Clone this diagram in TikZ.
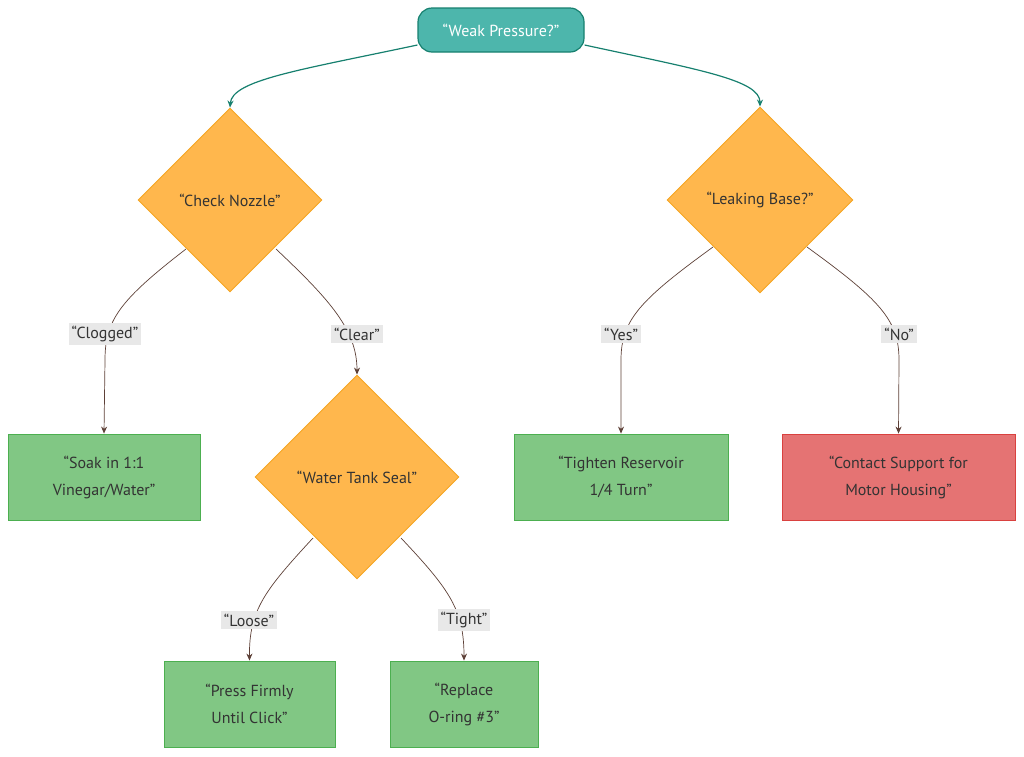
\documentclass[tikz,border=0pt]{standalone}
\usepackage{fontspec}
\setmainfont{PT Sans}
\usetikzlibrary{shapes.geometric,arrows.meta}
\definecolor{teal1}{HTML}{4DB6AC}
\definecolor{teal2}{HTML}{17806F}
\definecolor{dia}{HTML}{FFB74D}
\definecolor{diab}{HTML}{F5A623}
\definecolor{grn}{HTML}{81C784}
\definecolor{grnb}{HTML}{4CAF50}
\definecolor{rd}{HTML}{E57373}
\definecolor{rdb}{HTML}{D9413F}
\definecolor{edge}{HTML}{5D4037}
\definecolor{lbl}{HTML}{E8E8E8}
\begin{document}
\begin{tikzpicture}[x=1pt,y=-1pt,font=\fontsize{16}{27}\selectfont,
  diam/.style={diamond,draw=diab,fill=dia,line width=0.9pt,text=black!80,inner sep=0pt,aspect=1},
  box/.style={draw=grnb,fill=grn,line width=0.9pt,text=black!80,align=center,inner sep=0pt},
  lab/.style={fill=lbl,text=black!80,inner sep=3pt},
  e/.style={draw=edge,line width=0.7pt,-{Stealth[length=7pt,width=6pt]}},
  te/.style={draw=teal2,line width=1.2pt,-{Stealth[length=7pt,width=6pt]}}]
\useasboundingbox (0,0) rectangle (1024,756);
\node[draw=teal2,fill=teal1,line width=1.2pt,rounded corners=14pt,minimum width=166pt,minimum height=44pt,text=white] (top) at (501,30) {“Weak Pressure?”};
\node[diam,minimum width=184pt,minimum height=184pt] (cn) at (230,200) {“Check Nozzle”};
\node[diam,minimum width=186pt,minimum height=186pt] (lb) at (760,200) {“Leaking Base?”};
\node[diam,minimum width=204pt,minimum height=204pt] (wt) at (357,477) {“Water Tank Seal”};
\node[box,minimum width=192pt,minimum height=86pt] (soak) at (104,477) {“Soak in 1:1\\Vinegar/Water”};
\node[box,minimum width=214pt,minimum height=86pt] (tig) at (621,477) {“Tighten Reservoir\\1/4 Turn”};
\node[box,draw=rdb,fill=rd,minimum width=233pt,minimum height=86pt] (con) at (898.5,477) {“Contact Support for\\Motor Housing”};
\node[box,minimum width=171pt,minimum height=86pt] (pr) at (249.5,704) {“Press Firmly\\Until Click”};
\node[box,minimum width=148pt,minimum height=86pt] (rep) at (464,704) {“Replace\\O-ring \#3”};
\draw[te] (top.west) ++(0,15) .. controls (300,70) and (232,80) .. (cn.north);
\draw[te] (top.east) ++(0,15) .. controls (700,70) and (760,80) .. (lb.north);
\draw[e] (186,249) .. controls (120,300) and (105,320) .. (105,360) -- (soak.north);
\draw[e] (276,249) .. controls (330,300) and (357,330) .. (wt.north);
\draw[e] (713,247) .. controls (640,300) and (621,320) .. (621,360) -- (tig.north);
\draw[e] (807,247) .. controls (880,300) and (899,320) .. (899,360) -- (con.north);
\draw[e] (313,538) .. controls (265,590) and (249,610) .. (pr.north);
\draw[e] (401,538) .. controls (450,590) and (464,610) .. (rep.north);
\node[lab] (l1) at (105,334) {“Clogged”};
\node[lab] (l2) at (357,334) {“Clear”};
\node[lab] (l3) at (621,334) {“Yes”};
\node[lab] (l4) at (899,334) {“No”};
\node[lab] (l5) at (249,620) {“Loose”};
\node[lab] (l6) at (464,620) {“Tight”};
\end{tikzpicture}
\end{document}
